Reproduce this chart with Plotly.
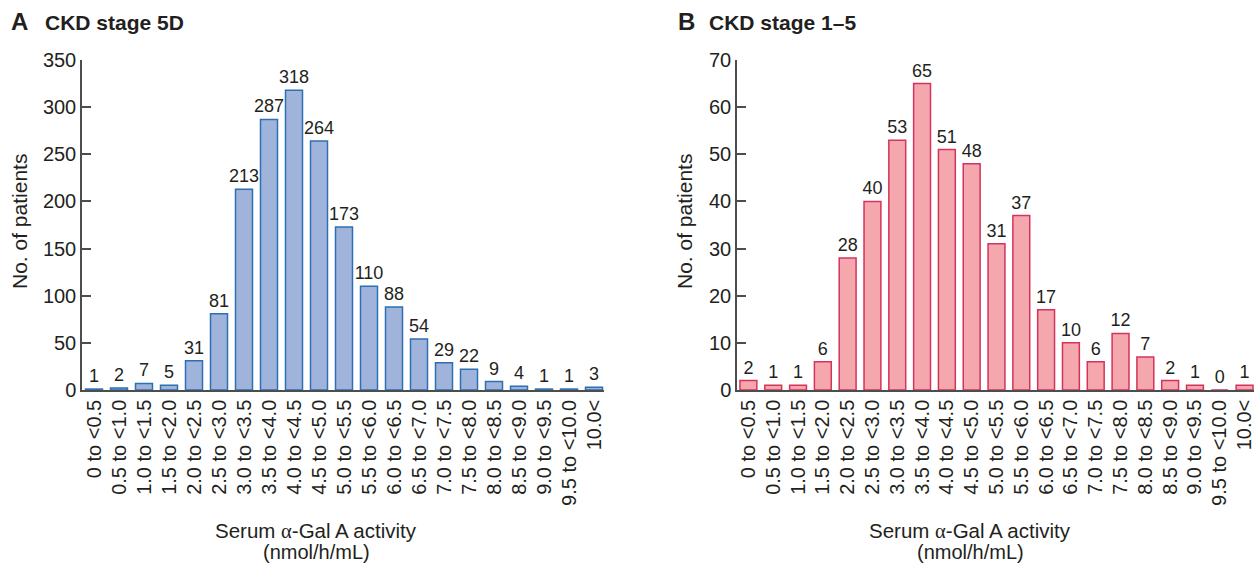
import plotly.graph_objects as go

categories = ["0 to <0.5", "0.5 to <1.0", "1.0 to <1.5", "1.5 to <2.0", "2.0 to <2.5",
              "2.5 to <3.0", "3.0 to <3.5", "3.5 to <4.0", "4.0 to <4.5", "4.5 to <5.0",
              "5.0 to <5.5", "5.5 to <6.0", "6.0 to <6.5", "6.5 to <7.0", "7.0 to <7.5",
              "7.5 to <8.0", "8.0 to <8.5", "8.5 to <9.0", "9.0 to <9.5", "9.5 to <10.0", "10.0<"]
stage5d = [1, 2, 7, 5, 31, 81, 213, 287, 318, 264, 173, 110, 88, 54, 29, 22, 9, 4, 1, 1, 3]
stage1_5 = [2, 1, 1, 6, 28, 40, 53, 65, 51, 48, 31, 37, 17, 10, 6, 12, 7, 2, 1, 0, 1]
yticks_a = [0, 50, 100, 150, 200, 250, 300, 350]
yticks_b = [0, 10, 20, 30, 40, 50, 60, 70]

FONT = "Liberation Sans, Arial, sans-serif"
TXT = "#231f20"
AX = "#4d4d4d"
W, H = 1254, 566

fig = go.Figure()
idx = list(range(len(categories)))
for vals, xa_, ya_, fill, edge in [
    (stage5d, "x", "y", "#a0b4db", "#2d6fb4"),
    (stage1_5, "x2", "y2", "#f4a8ae", "#d4335c"),
]:
    fig.add_trace(go.Bar(x=idx, y=vals, xaxis=xa_, yaxis=ya_, width=0.68,
                         marker=dict(color=fill, line=dict(color=edge, width=1.5)),
                         text=[str(v) for v in vals], textposition="outside",
                         constraintext="none",
                         textfont=dict(size=18, color=TXT, family=FONT), cliponaxis=False,
                         showlegend=False))

top = 1 - 60 / H
bot = 1 - 390 / H
xa = dict(tickmode="array", tickvals=idx, ticktext=categories, tickangle=-90,
          tickfont=dict(size=20, color=TXT, family=FONT), showline=True, linecolor=AX,
          linewidth=1.5, ticks="", showgrid=False, zeroline=False, automargin=False,
          ticklabeloverflow="allow")
ya = dict(showline=True, linecolor=AX, linewidth=1.5, ticks="inside", ticklen=9,
          tickwidth=1.5, tickcolor=AX, tickfont=dict(size=20, color=TXT, family=FONT),
          showgrid=False, zeroline=False, automargin=False, domain=[bot, top])

fig.update_layout(
    width=W, height=H, margin=dict(l=0, r=0, t=0, b=0),
    plot_bgcolor="white", paper_bgcolor="white",
    font=dict(family=FONT, color=TXT),
    xaxis=dict(xa, domain=[82 / W, 604 / W], range=[-0.48, 20.4], anchor="y"),
    yaxis=dict(ya, range=[0, 350], tickvals=yticks_a, anchor="x"),
    xaxis2=dict(xa, domain=[737 / W, 1254 / W], range=[-0.46, 20.38], anchor="y2"),
    yaxis2=dict(ya, range=[0, 70], tickvals=yticks_b, anchor="x2"),
)

alpha = "<span style='font-family:Liberation Serif, serif'>α</span>"
ann = [
    dict(x=9 / W, y=1 - 21 / H, text="<b>A</b>", font=dict(size=24)),
    dict(x=43 / W, y=1 - 22 / H, text="<b>CKD stage 5D</b>", font=dict(size=21)),
    dict(x=676 / W, y=1 - 21 / H, text="<b>B</b>", font=dict(size=24)),
    dict(x=707 / W, y=1 - 22 / H, text="<b>CKD stage 1–5</b>", font=dict(size=21)),
]
annotations = []
for a in ann:
    annotations.append(dict(a, xref="paper", yref="paper", xanchor="left", yanchor="middle",
                            showarrow=False))
for cx in (316 / W, 970 / W):
    annotations.append(dict(x=cx, y=1 - 530 / H, xref="paper", yref="paper",
                            text=f"Serum {alpha}-Gal A activity", showarrow=False,
                            font=dict(size=20.5), xanchor="center", yanchor="middle"))
    annotations.append(dict(x=cx, y=1 - 552 / H, xref="paper", yref="paper",
                            text="(nmol/h/mL)", showarrow=False,
                            font=dict(size=20), xanchor="center", yanchor="middle"))
for cx in (19 / W, 684 / W):
    annotations.append(dict(x=cx, y=1 - 222 / H, xref="paper", yref="paper",
                            text="No. of patients", textangle=-90, showarrow=False,
                            font=dict(size=21), xanchor="center", yanchor="middle"))
fig.update_layout(annotations=annotations)

fig.write_html("out.html")
